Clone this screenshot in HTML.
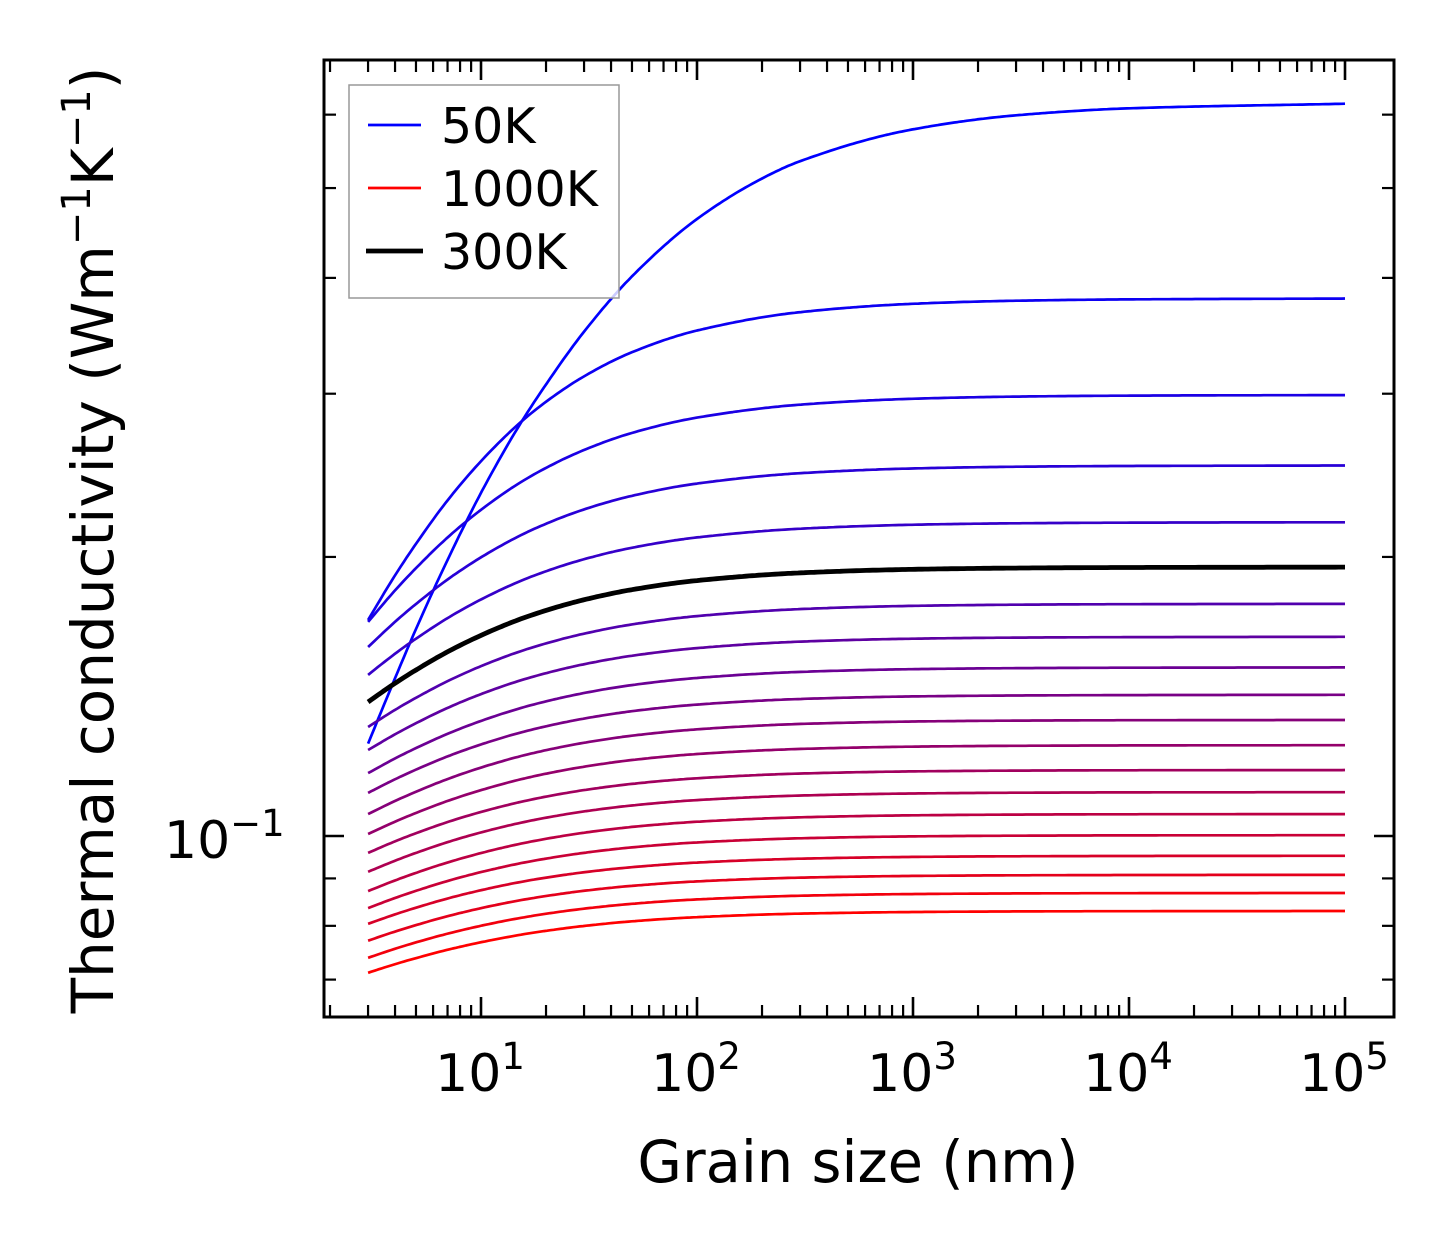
<!DOCTYPE html>
<html><head><meta charset="utf-8">
<style>
html,body{margin:0;padding:0;background:#fff;}
svg{display:block;font-family:"DejaVu Sans","Liberation Sans",sans-serif;}
</style></head>
<body>
<svg id="chart" width="1454" height="1254" viewBox="0 0 1454 1254" xmlns="http://www.w3.org/2000/svg">
  <rect x="0" y="0" width="1454" height="1254" fill="#fff"/>
  <g id="curves"></g>
  <g id="ticks"></g>
  <rect x="324" y="60" width="1070" height="957" fill="none" stroke="#000" stroke-width="3"/>
  <g id="xlabels"></g>
  <g>
    <text x="164" y="858" font-size="52">10<tspan dy="-22" font-size="37">−1</tspan></text>
  </g>
  <text x="858" y="1182" font-size="57.5" text-anchor="middle">Grain size (nm)</text>
  <text transform="translate(113,540) rotate(-90)" font-size="58" text-anchor="middle">Thermal conductivity (Wm<tspan dy="-23" font-size="40">−1</tspan><tspan dy="23">K</tspan><tspan dy="-23" font-size="40">−1</tspan><tspan dy="23">)</tspan></text>
  <g>
    <rect x="349" y="85" width="270" height="213" fill="#fff" fill-opacity="0.8" stroke="#999" stroke-width="1.5"/>
    <g>
      <line x1="368" y1="125" x2="421" y2="125" stroke="#0000ff" stroke-width="2.7"/>
      <text x="441" y="143" font-size="49">50K</text>
    </g>
    <g>
      <line x1="368" y1="188" x2="421" y2="188" stroke="#ff0000" stroke-width="2.7"/>
      <text x="441" y="206" font-size="49">1000K</text>
    </g>
    <g>
      <line x1="366" y1="251" x2="423" y2="251" stroke="#000" stroke-width="4.8"/>
      <text x="441" y="269" font-size="49">300K</text>
    </g>
  </g>
</svg>
<script>
// ---- data ----
var temperatures = [50,100,150,200,250,300,350,400,450,500,550,600,650,700,750,800,850,900,950,1000];
// conductivity at 3 nm grain size
var kStart = [0.1258,0.1710,0.1702,0.1599,0.1492,0.1395,0.1311,0.1238,0.1169,0.1113,0.1056,0.1005,0.0959,0.0915,0.0872,0.0836,0.0804,0.0771,0.0739,0.0712];
// bulk plateau conductivity
var kInf = [0.617,0.380,0.299,0.251,0.218,0.195,0.178,0.164,0.152,0.142,0.1334,0.1253,0.1178,0.1115,0.1056,0.1002,0.0952,0.0908,0.0868,0.0830];
// grain sizes sampled (nm)
var grainSizes = [3,4,5,7,10,15,20,30,50,100,300,1000,3000,10000,100000];
var gapFraction = [1,0.861,0.763,0.628,0.506,0.389,0.321,0.242,0.167,0.0995,0.0424,0.0163,0.0068,0.0026,0];
// 50K curve sampled directly
var grain50 = [3,4,5,7,10,15,20,30,50,100,200,300,1000,3000,10000,100000];
var k50 = [0.1258,0.1480,0.1672,0.1985,0.2345,0.2770,0.3070,0.3500,0.4015,0.4630,0.5120,0.5345,0.5785,0.5990,0.6095,0.6165];

// ---- axes ----
function xs(L){ return 481 + (Math.log10(L)-1)*216; }
function ys(k){ return 836 - (Math.log10(k)+1)*927; }

var NS="http://www.w3.org/2000/svg";
var curves=document.getElementById('curves');

// monotone cubic (PCHIP) interpolation
function pchip(xa, ya){
  var n=xa.length, h=[], d=[], m=[];
  for(var i=0;i<n-1;i++){ h[i]=xa[i+1]-xa[i]; d[i]=(ya[i+1]-ya[i])/h[i]; }
  m[0]=d[0]; m[n-1]=d[n-2];
  for(var i=1;i<n-1;i++){
    if(d[i-1]*d[i]<=0) m[i]=0;
    else { var w1=2*h[i]+h[i-1], w2=h[i]+2*h[i-1]; m[i]=(w1+w2)/(w1/d[i-1]+w2/d[i]); }
  }
  return function(x){
    var i=0; while(i<n-2 && x>xa[i+1]) i++;
    var t=(x-xa[i])/h[i], t2=t*t, t3=t2*t;
    return (2*t3-3*t2+1)*ya[i]+(t3-2*t2+t)*h[i]*m[i]+(-2*t3+3*t2)*ya[i+1]+(t3-t2)*h[i]*m[i+1];
  };
}
var shape=pchip(grainSizes.map(Math.log10), gapFraction);
var f50=pchip(grain50.map(Math.log10), k50.map(Math.log10));

var blackEl=null;
for(var i=0;i<temperatures.length;i++){
  var d='';
  var N=300, a=Math.log10(3), b=5;
  for(var j=0;j<=N;j++){
    var lx=a+(b-a)*j/N, lk;
    if(i===0) lk=f50(lx);
    else { var ls=Math.log10(kStart[i]), li=Math.log10(kInf[i]); lk=li+(ls-li)*shape(lx); }
    var px=xs(Math.pow(10,lx)), py=ys(Math.pow(10,lk));
    d+=(j?' L':'M')+px.toFixed(1)+','+py.toFixed(1);
  }
  var t=i/(temperatures.length-1);
  var col='rgb('+Math.round(255*t)+',0,'+Math.round(255*(1-t))+')';
  var is300=temperatures[i]===300;
  var p=document.createElementNS(NS,'path');
  p.setAttribute('d',d);
  p.setAttribute('fill','none');
  p.setAttribute('stroke-linejoin','round');
  p.setAttribute('stroke',is300?'#000':col);
  p.setAttribute('stroke-width',is300?'4.8':'2.7');
  
  
  if(is300) blackEl=p;
  curves.appendChild(p);
}
if(blackEl) curves.appendChild(blackEl);

// ---- ticks ----
var ticks=document.getElementById('ticks');
function tick(x1,y1,x2,y2,w,name){
  var l=document.createElementNS(NS,'line');
  l.setAttribute('x1',x1);l.setAttribute('y1',y1);l.setAttribute('x2',x2);l.setAttribute('y2',y2);
  l.setAttribute('stroke','#000');l.setAttribute('stroke-width',w);
  
  
  ticks.appendChild(l);
}
var xMajor=[1,2,3,4,5];
var xMinorMult=[2,3,4,5,6,7,8,9];
var xMinorDecades=[0,1,2,3,4,5];
xMajor.forEach(function(e){
  var x=xs(Math.pow(10,e));
  tick(x,1017,x,997,2.6,'x-major-tick');
  tick(x,60,x,80,2.6,'x-major-tick-top');
});
xMinorDecades.forEach(function(e){
  xMinorMult.forEach(function(m){
    var v=m*Math.pow(10,e); var x=xs(v);
    if(x<325||x>1393) return;
    tick(x,1017,x,1005,2.2,'x-minor-tick');
    tick(x,60,x,72,2.2,'x-minor-tick-top');
  });
});
var yMajor=[0.1];
var yMinor=[0.07,0.08,0.09,0.2,0.3,0.4,0.5,0.6];
yMajor.forEach(function(v){var y=ys(v);tick(324,y,344,y,2.6,'y-major-tick');tick(1394,y,1374,y,2.6,'y-major-tick-right');});
yMinor.forEach(function(v){var y=ys(v);tick(324,y,336,y,2.2,'y-minor-tick');tick(1394,y,1382,y,2.2,'y-minor-tick-right');});

// x tick labels
var xTickExp=['1','2','3','4','5'];
var xl=document.getElementById('xlabels');
xMajor.forEach(function(e,i){
  var t=document.createElementNS(NS,'text');
  t.setAttribute('x',xs(Math.pow(10,e))-1);
  t.setAttribute('y',1091);
  t.setAttribute('font-size','52');
  t.setAttribute('text-anchor','middle');
  
  
  t.innerHTML='10<tspan dy="-22" font-size="37">'+xTickExp[i]+'</tspan>';
  xl.appendChild(t);
});
</script>
</body></html>
